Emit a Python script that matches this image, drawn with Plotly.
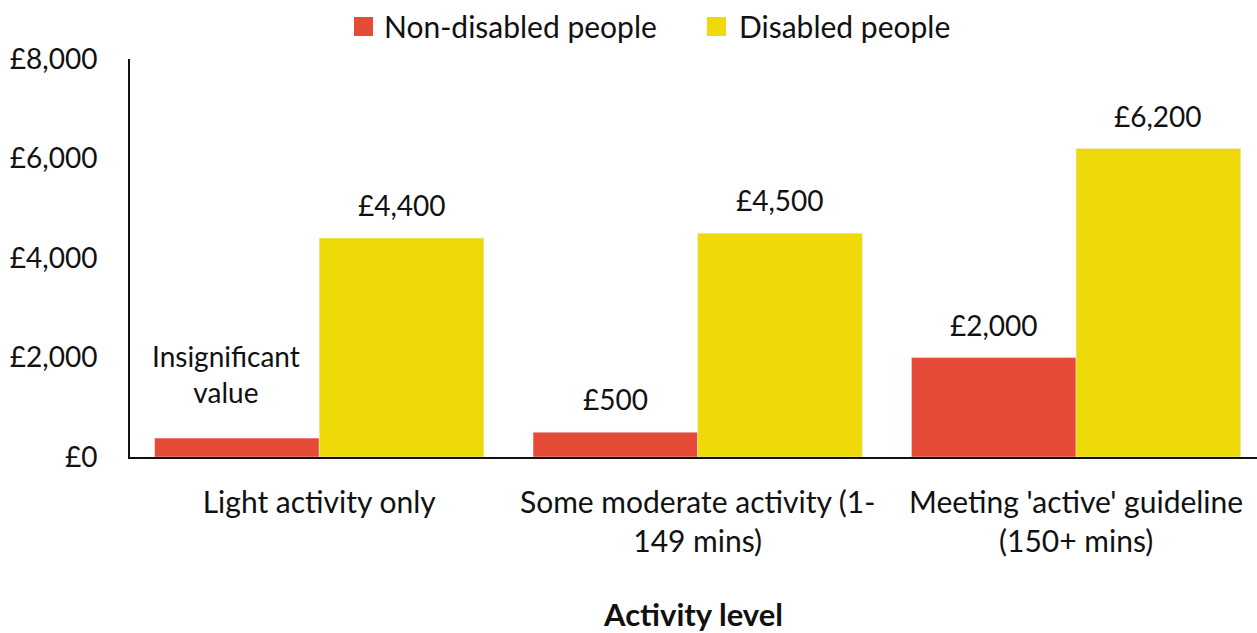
import plotly.graph_objects as go

categories = ["Light activity only", "Some moderate activity (1-<br>149 mins)", "Meeting 'active' guideline<br>(150+ mins)"]
series_names = ["Non-disabled people", "Disabled people"]
non_disabled = [380, 500, 2000]
disabled = [4400, 4500, 6200]
non_disabled_labels = ["Insignificant<br>value", "£500", "£2,000"]
disabled_labels = ["£4,400", "£4,500", "£6,200"]
y_ticks = [0, 2000, 4000, 6000, 8000]
y_tick_labels = ["£0", "£2,000", "£4,000", "£6,000", "£8,000"]

RED = "#E54B36"
YELLOW = "#EDDA08"
FONT = "Source Sans Pro, Lato, sans-serif"

W, H = 1257, 633
ML, MR, MT, MB = 130, 0, 59, 176
PW, PH = W - ML - MR, H - MT - MB


def px_x(p):
    return (p - ML) / PW


def px_y(p):
    return (H - MB - p) / PH


fig = go.Figure()
fig.add_trace(go.Bar(name=series_names[0], x=categories, y=non_disabled,
                     marker_color=RED, showlegend=False))
fig.add_trace(go.Bar(name=series_names[1], x=categories, y=disabled,
                     marker_color=YELLOW, showlegend=False))

x_range = [-0.5, 2.478]
unit = PW / (x_range[1] - x_range[0])
bargap = 0.13
bar_w = unit * (1 - bargap) / 2

for c, v, lab in zip(categories, non_disabled, non_disabled_labels):
    extra = 13 if "<br>" in lab else 0
    fig.add_annotation(x=c, y=v, text=lab, showarrow=False, xshift=-bar_w / 2 - (11 if extra else 0),
                       yanchor="bottom", yshift=14 + extra, font=dict(size=28, color="#111"))
for c, v, lab in zip(categories, disabled, disabled_labels):
    fig.add_annotation(x=c, y=v, text=lab, showarrow=False, xshift=bar_w / 2,
                       yanchor="bottom", yshift=14, font=dict(size=28, color="#111"))

# manual legend (square swatches like the original)
legend_items = [(series_names[0], RED, 354, 382), (series_names[1], YELLOW, 707, 737)]
for name, col, sx, tx in legend_items:
    fig.add_shape(type="rect", xref="paper", yref="paper",
                  x0=px_x(sx), x1=px_x(sx + 19), y0=px_y(36), y1=px_y(17),
                  fillcolor=col, line_width=0, layer="above")
    fig.add_annotation(xref="paper", yref="paper", x=px_x(tx), y=px_y(26),
                       xanchor="left", yanchor="middle", text=name, showarrow=False,
                       font=dict(size=30, color="#111"))

fig.update_layout(
    width=W, height=H,
    margin=dict(l=ML, r=MR, t=MT, b=MB),
    paper_bgcolor="white", plot_bgcolor="white",
    font=dict(family=FONT, size=28, color="#111"),
    barmode="group", bargap=bargap, bargroupgap=0,
    showlegend=False,
)
fig.update_yaxes(range=[0, 8000], tickvals=y_ticks, ticktext=y_tick_labels,
                 showgrid=False, showline=True, linecolor="#111", linewidth=2,
                 ticks="", ticklabelstandoff=25, tickfont=dict(size=28), zeroline=False)
fig.update_xaxes(range=x_range, showline=True, linecolor="#111", linewidth=2, ticks="",
                 ticklabelstandoff=18, tickfont=dict(size=30),
                 title=dict(text="<b>Activity level</b>", font=dict(size=31), standoff=52))

fig.write_html("out.html")
